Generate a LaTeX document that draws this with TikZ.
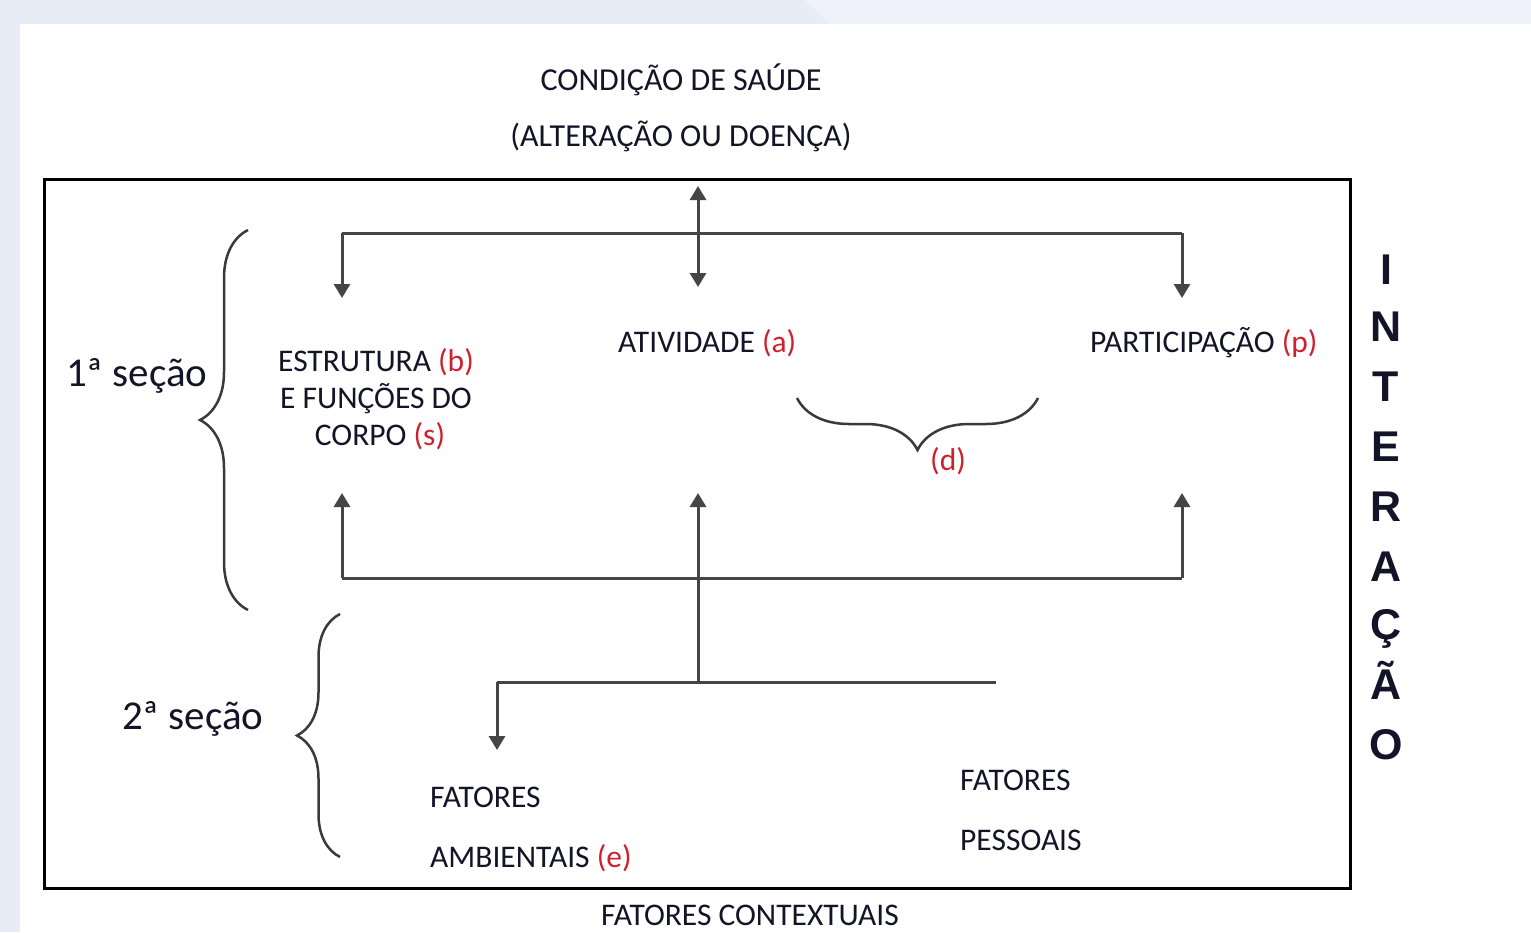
\documentclass[tikz,border=0pt]{standalone}
\usepackage{fontspec}
\setmainfont{Carlito}
\newfontfamily\interfont{Liberation Sans}
\usetikzlibrary{arrows.meta,decorations.pathreplacing}
\definecolor{bgA}{HTML}{E7ECF6}
\definecolor{bgB}{HTML}{EFF2FB}
\definecolor{lred}{HTML}{D0202E}
\definecolor{lineg}{HTML}{454545}
\definecolor{braceg}{HTML}{3A3A3A}
\definecolor{txt}{HTML}{141428}
\tikzset{
  lbl/.style={font=\fontsize{31.5}{37}\selectfont, inner sep=0pt, text=txt},
  head/.style={font=\fontsize{32}{38}\selectfont, inner sep=0pt, text=txt},
  sec/.style={font=\fontsize{41}{46}\selectfont, inner sep=0pt, text=txt},
  inter/.style={font=\interfont\bfseries\fontsize{43}{48}\selectfont, inner sep=0pt, text=txt},
  conn/.style={line width=3pt, draw=lineg},
  arr/.style={conn, -{Triangle[width=16pt,length=14pt]}},
  darr/.style={conn, {Triangle[width=16pt,length=14pt]}-{Triangle[width=16pt,length=14pt]}},
  brc/.style={decorate, decoration={brace, amplitude=#1}, line width=2.5pt, draw=braceg},
}
\newcommand{\rd}[1]{\textcolor{lred}{#1}}
\begin{document}
\begin{tikzpicture}[x=1pt,y=-1pt]
\useasboundingbox (0,0) rectangle (1531,932);
\fill[white] (0,0) rectangle (1531,932);
\fill[bgA] (0,0) -- (805,0) -- (830,24) -- (0,24) -- cycle;
\fill[bgB] (805,0) -- (1531,0) -- (1531,24) -- (830,24) -- cycle;
\fill[bgA] (0,24) rectangle (20,932);

% frame
\draw[line width=3pt] (44,179) rectangle (1350,888);

% texts
\node[head, anchor=base] (cond) at (681,90) {CONDIÇÃO DE SAÚDE};
\node[head, anchor=base] (alt) at (681,146) {(ALTERAÇÃO OU DOENÇA)};
\node[lbl, anchor=base west] (ativ) at (618,352) {ATIVIDADE \rd{(a)}};
\node[lbl, anchor=base west] (part) at (1090,352) {PARTICIPAÇÃO \rd{(p)}};
\node[lbl, anchor=base] (estr1) at (376,371) {ESTRUTURA \rd{(b)}};
\node[lbl, anchor=base] (estr2) at (376,408) {E FUNÇÕES DO};
\node[lbl, anchor=base] (estr3) at (380,445) {CORPO \rd{(s)}};
\node[lbl, anchor=base west] (d) at (930,470) {\rd{(d)}};
\node[lbl, anchor=base west] (fa1) at (430,807) {FATORES};
\node[lbl, anchor=base west] (fa2) at (430,867) {AMBIENTAIS \rd{(e)}};
\node[lbl, anchor=base west] (fp1) at (960,790) {FATORES};
\node[lbl, anchor=base west] (fp2) at (960,850) {PESSOAIS};
\node[lbl, anchor=base] (ctx) at (750,925) {FATORES CONTEXTUAIS};
\node[sec, anchor=base west] (s1) at (66,386) {1ª seção};
\node[sec, anchor=base west] (s2) at (122,729) {2ª seção};

\foreach \l/\y [count=\i] in {I/284,N/341,T/401,E/461,R/521,A/581,Ç/639,Ã/699,O/759}
  \node[inter, anchor=base] (int\i) at (1386,\y) {\l};

% braces
\draw[brc=48] (248,610) -- (248,230);
\draw[brc=43] (340,857) -- (340,614);
\draw[brc=52] (1038,398) -- (797,398);

% connector coordinates
\coordinate (topT) at (698,186);
\coordinate (topB) at (698,287);
\coordinate (tL) at (342,233);
\coordinate (tR) at (1182,233);
\coordinate (tLe) at (342,298);
\coordinate (tRe) at (1182,298);
\coordinate (bL) at (342,578);
\coordinate (bR) at (1182,578);
\coordinate (bLe) at (342,493);
\coordinate (bRe) at (1182,493);
\coordinate (cB) at (698,682);
\coordinate (cT) at (698,493);
\coordinate (lL) at (497,682);
\coordinate (lR) at (996,682);
\coordinate (lLe) at (497,750);

% connectors
\draw[darr] (topT) -- (topB);
\draw[conn] (tL) -- (tR);
\draw[arr] (tL) -- (tLe);
\draw[arr] (tR) -- (tRe);
\draw[conn] (bL) -- (bR);
\draw[arr] (bL) -- (bLe);
\draw[arr] (bR) -- (bRe);
\draw[arr] (cB) -- (cT);
\draw[conn] (lL) -- (lR);
\draw[arr] (lL) -- (lLe);
\end{tikzpicture}
\end{document}
